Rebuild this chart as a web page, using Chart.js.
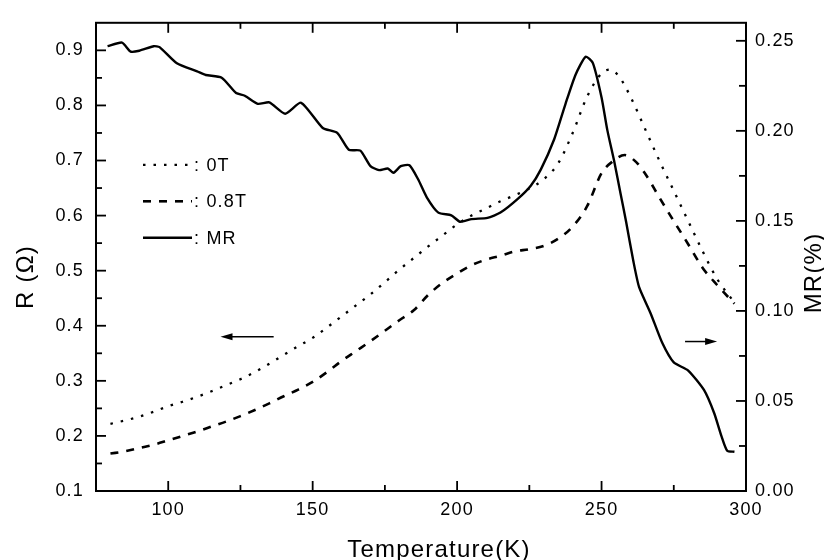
<!DOCTYPE html>
<html lang="en">
<head>
    <meta charset="UTF-8">
    <title>R and MR vs Temperature</title>
    <script src="https://cdn.jsdelivr.net/npm/chart.js@4"></script>
    <style>
        html, body { margin: 0; padding: 0; background: #fff; }
        #chart { display: block; }
    </style>
</head>
<body>
    <canvas id="chart" width="824" height="560"></canvas>

    <script>
        // resistance at 0 T (left axis)
        const temps0T = [80, 85, 90, 95, 100, 105, 110, 115, 120, 125, 130, 135, 140, 145, 150, 155, 160, 165, 170, 175,
            180, 185, 190, 195, 200, 205, 210, 215, 220, 225, 230, 235, 240, 245, 250, 253, 256, 260, 265, 270,
            275, 280, 285, 290, 296];
        const r0T = [0.222, 0.228, 0.235, 0.244, 0.254, 0.262, 0.271, 0.281, 0.292, 0.303, 0.316, 0.331, 0.347, 0.363, 0.378, 0.397, 0.417, 0.437, 0.457, 0.479,
            0.502, 0.523, 0.544, 0.564, 0.584, 0.600, 0.613, 0.626, 0.637, 0.649, 0.666, 0.695, 0.750, 0.816, 0.858, 0.865, 0.853, 0.816, 0.758, 0.700,
            0.645, 0.590, 0.535, 0.485, 0.442];

        // resistance at 0.8 T (left axis)
        const temps08T = [80, 85, 90, 95, 100, 105, 110, 115, 120, 125, 130, 135, 140, 145, 150, 155, 160, 165, 170, 175,
            180, 185, 190, 195, 200, 205, 210, 215, 220, 225, 230, 235, 240, 245, 250, 254, 258, 262, 265, 270,
            275, 280, 285, 290, 296];
        const r08T = [0.168, 0.172, 0.178, 0.184, 0.192, 0.200, 0.208, 0.217, 0.226, 0.236, 0.247, 0.259, 0.272, 0.284, 0.298, 0.316, 0.336, 0.354, 0.372, 0.391,
            0.410, 0.428, 0.456, 0.478, 0.495, 0.510, 0.520, 0.527, 0.535, 0.539, 0.545, 0.558, 0.580, 0.617, 0.677, 0.699, 0.710, 0.697, 0.677, 0.633,
            0.590, 0.548, 0.505, 0.474, 0.440];

        // magnetoresistance (right axis)
        const tempsMR = [79, 84, 87, 90, 95, 97, 103, 110, 113, 118.5, 123.5, 126.5, 131, 135, 140.5, 146, 153.5, 158.5, 162.5, 166.5,
            170, 173, 176, 178, 180.5, 183.5, 186.5, 189.5, 193.5, 198, 201, 205, 210.5, 215, 221, 225.5, 229, 233.5, 237.5, 241,
            244.5, 247, 250, 252, 254.5, 256.5, 258.5, 261, 263, 267, 271, 275, 280, 285.5, 289, 291.5, 293.5, 296];
        const mrPct = [0.247, 0.249, 0.244, 0.2445, 0.247, 0.2465, 0.2375, 0.233, 0.231, 0.2295, 0.221, 0.2195, 0.215, 0.2158, 0.2095, 0.2156, 0.2016, 0.1989, 0.1895, 0.189,
            0.1804, 0.1782, 0.1791, 0.1767, 0.1804, 0.1809, 0.1731, 0.1631, 0.1546, 0.1531, 0.1495, 0.151, 0.1517, 0.1546, 0.1622, 0.1695, 0.1786, 0.1949, 0.2149, 0.2312,
            0.2412, 0.2376, 0.2185, 0.2004, 0.1822, 0.1658, 0.1495, 0.1277, 0.1132, 0.0986, 0.0823, 0.0714, 0.0669, 0.056, 0.0432, 0.0305, 0.0223, 0.0218];

        const legendLabels = [': 0T', ': 0.8T', ': MR'];
        const xMinorTicks = [125, 175, 225, 275];
        const yMinorTicks = [0.15, 0.25, 0.35, 0.45, 0.55, 0.65, 0.75, 0.85];
        const y1MinorTicks = [0.025, 0.075, 0.125, 0.175, 0.225];

        const FONT = '"Liberation Sans", Arial, Helvetica, sans-serif';

        function toPoints(xs, ys) {
            return xs.map((x, i) => ({ x: x, y: ys[i] }));
        }

        function drawArrow(ctx, x1, y, x2) {
            const dir = Math.sign(x2 - x1);
            ctx.beginPath();
            ctx.moveTo(x1, y);
            ctx.lineTo(x2 - dir * 8, y);
            ctx.stroke();
            ctx.beginPath();
            ctx.moveTo(x2, y);
            ctx.lineTo(x2 - dir * 12, y - 3.5);
            ctx.lineTo(x2 - dir * 12, y + 3.5);
            ctx.closePath();
            ctx.fill();
        }

        // frame, inward ticks, legend, arrows and axis titles
        const decor = {
            id: 'decor',
            beforeDraw(chart) {
                chart.ctx.letterSpacing = '1.2px';
            },
            afterDraw(chart) {
                const ctx = chart.ctx;
                const a = chart.chartArea;
                const sx = chart.scales.x, sy = chart.scales.y, sy1 = chart.scales.y1;
                ctx.save();
                ctx.setLineDash([]);
                ctx.strokeStyle = '#000';
                ctx.fillStyle = '#000';
                ctx.lineCap = 'butt';

                const seg = (x1, y1, x2, y2) => {
                    ctx.beginPath();
                    ctx.moveTo(x1, y1);
                    ctx.lineTo(x2, y2);
                    ctx.stroke();
                };

                ctx.lineWidth = 1.8;
                sx.ticks.forEach(t => {
                    const p = sx.getPixelForValue(t.value);
                    seg(p, a.bottom, p, a.bottom - 10);
                    seg(p, a.top, p, a.top + 10);
                });
                xMinorTicks.forEach(v => {
                    const p = sx.getPixelForValue(v);
                    seg(p, a.bottom, p, a.bottom - 6);
                    seg(p, a.top, p, a.top + 6);
                });
                sy.ticks.forEach(t => {
                    const p = sy.getPixelForValue(t.value);
                    seg(a.left, p, a.left + 10, p);
                });
                yMinorTicks.forEach(v => {
                    const p = sy.getPixelForValue(v);
                    seg(a.left, p, a.left + 6, p);
                });
                sy1.ticks.forEach(t => {
                    const p = sy1.getPixelForValue(t.value);
                    seg(a.right, p, a.right - 10, p);
                });
                y1MinorTicks.forEach(v => {
                    const p = sy1.getPixelForValue(v);
                    seg(a.right, p, a.right - 7, p);
                });

                ctx.lineWidth = 2;
                ctx.strokeRect(a.left, a.top, a.right - a.left, a.bottom - a.top);

                // legend
                ctx.font = '18px ' + FONT;
                ctx.textAlign = 'left';
                ctx.textBaseline = 'alphabetic';
                chart.data.datasets.forEach((ds, i) => {
                    const y = a.top + 142 + i * 36.5;
                    ctx.lineWidth = ds.borderWidth;
                    ctx.setLineDash(ds.borderDash || []);
                    seg(a.left + 47, y, a.left + 96, y);
                    ctx.setLineDash([]);
                    ctx.fillText(legendLabels[i], a.left + 98, y + 6);
                });

                // arrows pointing at each axis
                ctx.lineWidth = 1.5;
                drawArrow(ctx, sx.getPixelForValue(136.5), sy.getPixelForValue(0.38), sx.getPixelForValue(118.1));
                drawArrow(ctx, sx.getPixelForValue(278.9), sy1.getPixelForValue(0.083), sx.getPixelForValue(290));

                // axis titles
                ctx.font = '24px ' + FONT;
                ctx.textAlign = 'center';
                ctx.fillText('Temperature(K)', 439, 557);

                ctx.save();
                ctx.translate(33, 277);
                ctx.rotate(-Math.PI / 2);
                ctx.fillText('R (\u03A9)', 0, 0);
                ctx.restore();

                ctx.save();
                ctx.translate(821, 273);
                ctx.rotate(-Math.PI / 2);
                ctx.fillText('MR(%)', 0, 0);
                ctx.restore();

                ctx.restore();
            }
        };

        const tickFont = { family: FONT, size: 18 };

        new Chart(document.getElementById('chart'), {
            type: 'line',
            data: {
                datasets: [
                    {
                        label: '0T', data: toPoints(temps0T, r0T), yAxisID: 'y',
                        borderColor: '#000', borderWidth: 2.3, borderDash: [2.5, 8],
                        pointRadius: 0, cubicInterpolationMode: 'monotone', fill: false
                    },
                    {
                        label: '0.8T', data: toPoints(temps08T, r08T), yAxisID: 'y',
                        borderColor: '#000', borderWidth: 2.6, borderDash: [8, 8],
                        pointRadius: 0, cubicInterpolationMode: 'monotone', fill: false
                    },
                    {
                        label: 'MR', data: toPoints(tempsMR, mrPct), yAxisID: 'y1',
                        borderColor: '#000', borderWidth: 2.4,
                        pointRadius: 0, tension: 0.2, fill: false
                    }
                ]
            },
            options: {
                responsive: false,
                animation: false,
                layout: { padding: { top: 14, left: 0, right: 0, bottom: 0 } },
                plugins: {
                    legend: { display: false },
                    tooltip: { enabled: false }
                },
                scales: {
                    x: {
                        type: 'linear', position: 'bottom', min: 75, max: 300,
                        grid: { display: false, drawTicks: false },
                        border: { display: false },
                        ticks: { stepSize: 50, includeBounds: false, padding: 8, color: '#000', font: tickFont, maxRotation: 0 },
                        afterFit: s => { s.height = 69; }
                    },
                    y: {
                        position: 'left', min: 0.1, max: 0.95,
                        grid: { display: false, drawTicks: false },
                        border: { display: false },
                        ticks: { stepSize: 0.1, includeBounds: false, padding: 12, color: '#000', font: tickFont,
                            callback: v => v.toFixed(1) },
                        afterFit: s => { s.width = 96; }
                    },
                    y1: {
                        position: 'right', min: 0, max: 0.26,
                        grid: { display: false, drawTicks: false },
                        border: { display: false },
                        ticks: { stepSize: 0.05, includeBounds: false, padding: 9, color: '#000', font: tickFont,
                            callback: v => v.toFixed(2) },
                        afterFit: s => { s.width = 78; }
                    }
                }
            },
            plugins: [decor]
        });
    </script>
</body>
</html>
